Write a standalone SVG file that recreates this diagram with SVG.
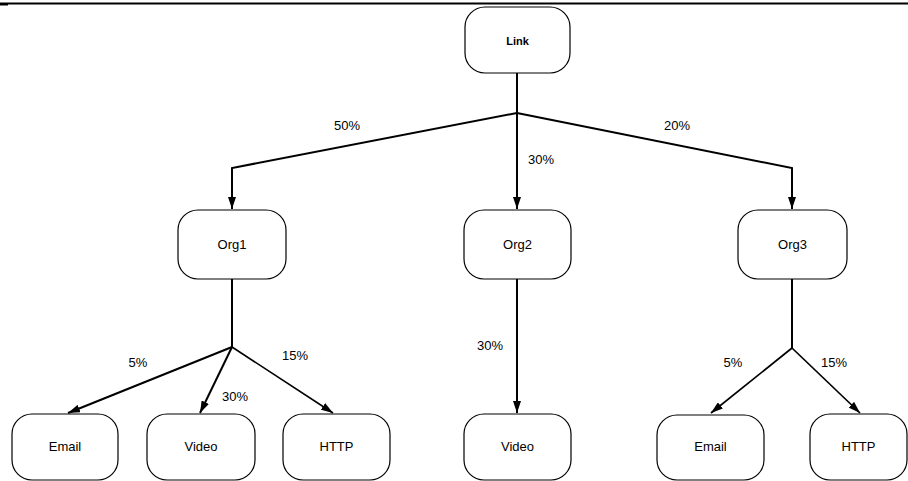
<svg xmlns="http://www.w3.org/2000/svg" width="908" height="481" viewBox="0 0 908 481">
  <defs>
    <marker id="arrow" viewBox="0 0 12 8" refX="12" refY="4" markerWidth="12" markerHeight="8" markerUnits="userSpaceOnUse" orient="auto">
      <path d="M0,0 L12,4 L0,8 Z" fill="#000"/>
    </marker>
  </defs>
  <style>
    .box { fill: #fff; stroke: #000; stroke-width: 1.2; }
    .lbl { font-family: "Liberation Sans", Arial, sans-serif; font-size: 13px; fill: #000; text-anchor: middle; }
    .pct { font-family: "Liberation Sans", Arial, sans-serif; font-size: 13px; fill: #000; text-anchor: middle; }
    .edge { fill: none; stroke: #000; stroke-width: 2; }
    .arr { fill: none; stroke: #000; stroke-width: 2; marker-end: url(#arrow); }
  </style>
  <rect width="908" height="481" fill="#fff"/>
  <!-- header rule -->
  <line x1="0" y1="3.5" x2="908" y2="3.5" stroke="#000" stroke-width="2"/>
  <line x1="0" y1="4.5" x2="8" y2="4.5" stroke="#000" stroke-width="2"/>

  <g id="connectors">
    <!-- Link to organisations -->
    <line class="edge" x1="517" y1="73" x2="517" y2="113"/>
    <polyline class="arr" points="517,113 232,168 232,209"/>
    <line class="arr" x1="517" y1="113" x2="517" y2="209"/>
    <polyline class="arr" points="517,113 792,168 792,209"/>
    <!-- Org1 breakdown -->
    <line class="edge" x1="232" y1="279" x2="232" y2="347"/>
    <line class="arr" x1="232" y1="347" x2="68" y2="413"/>
    <line class="arr" x1="232" y1="347" x2="200" y2="413"/>
    <line class="arr" x1="232" y1="347" x2="333" y2="413" style="stroke-width:1.6"/>
    <!-- Org2 breakdown -->
    <line class="arr" x1="517" y1="279" x2="517" y2="413"/>
    <!-- Org3 breakdown -->
    <line class="edge" x1="792" y1="279" x2="792" y2="348"/>
    <line class="arr" x1="792" y1="348" x2="711" y2="413" style="stroke-width:1.7"/>
    <line class="arr" x1="792" y1="348" x2="860" y2="413" style="stroke-width:1.7"/>
    <!-- share labels -->
    <text class="pct" x="347" y="130">50%</text>
    <text class="pct" x="541" y="164">30%</text>
    <text class="pct" x="677" y="130">20%</text>
    <text class="pct" x="138" y="367">5%</text>
    <text class="pct" x="295" y="360">15%</text>
    <text class="pct" x="235" y="401">30%</text>
    <text class="pct" x="490" y="350">30%</text>
    <text class="pct" x="733" y="367">5%</text>
    <text class="pct" x="834" y="367">15%</text>
  </g>

  <g id="link">
    <rect class="box" x="465" y="7" width="105" height="66" rx="20" ry="20"/>
    <text class="lbl" x="517.5" y="45" style="font-size:11px;font-weight:bold">Link</text>
  </g>
  <g id="org1">
    <rect class="box" x="178" y="210" width="108" height="69" rx="20" ry="20"/>
    <text class="lbl" x="232" y="249">Org1</text>
  </g>
  <g id="org2">
    <rect class="box" x="464" y="210" width="107" height="69" rx="20" ry="20"/>
    <text class="lbl" x="517.5" y="249">Org2</text>
  </g>
  <g id="org3">
    <rect class="box" x="738" y="210" width="109" height="69" rx="20" ry="20"/>
    <text class="lbl" x="792.5" y="249">Org3</text>
  </g>
  <g id="org1-email">
    <rect class="box" x="12" y="414" width="106" height="66" rx="20" ry="20"/>
    <text class="lbl" x="65" y="451">Email</text>
  </g>
  <g id="org1-video">
    <rect class="box" x="147" y="414" width="108" height="66" rx="20" ry="20"/>
    <text class="lbl" x="201" y="451">Video</text>
  </g>
  <g id="org1-http">
    <rect class="box" x="283" y="414" width="107" height="66" rx="20" ry="20"/>
    <text class="lbl" x="336.5" y="451">HTTP</text>
  </g>
  <g id="org2-video">
    <rect class="box" x="464" y="414" width="107" height="66" rx="20" ry="20"/>
    <text class="lbl" x="517.5" y="451">Video</text>
  </g>
  <g id="org3-email">
    <rect class="box" x="657" y="415" width="107" height="65" rx="20" ry="20"/>
    <text class="lbl" x="710.5" y="451">Email</text>
  </g>
  <g id="org3-http">
    <rect class="box" x="810" y="414" width="97" height="66" rx="20" ry="20"/>
    <text class="lbl" x="858.5" y="451">HTTP</text>
  </g>
</svg>
